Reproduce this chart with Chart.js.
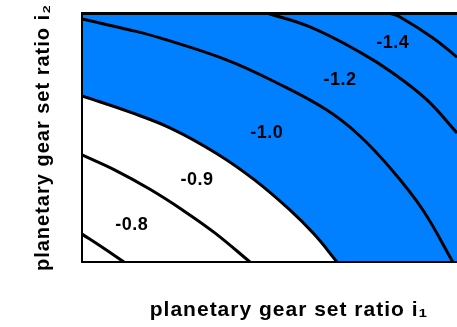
<!DOCTYPE html>
<html>
<head>
<meta charset="utf-8">
<script src="https://cdn.jsdelivr.net/npm/chart.js@4.4.1/dist/chart.umd.min.js"></script>
<style>
  body { margin: 0; background: #fff; }
  /* the original figure is cut off on the right, so the plot runs past the window */
  #wrap { width: 457px; height: 327px; overflow: hidden; }
</style>
</head>
<body>
<div id="wrap"><canvas id="contourChart" width="496" height="327"></canvas></div>
<script>
// contour lines of the overall ratio (i1, i2 in arbitrary units)
const i1_m08 = [0, 5.3, 11.2];
const i2_m08 = [11.2, 6.0, 0];

const i1_m09 = [0, 8.8, 17.9, 26.7, 35.5, 44.8];
const i2_m09 = [43.0, 36.9, 29.4, 21.0, 11.6, 0];

const i1_m10 = [0, 12.8, 24.0, 36.0, 46.0, 55.0, 62.0, 68.0];
const i2_m10 = [66.7, 60.2, 53.5, 43.5, 33.0, 21.5, 11.0, 0];

const i1_m12 = [0, 12.8, 20.8, 38.7, 52.0, 65.3, 74.1, 82.9, 90.9, 98.9];
const i2_m12 = [97.6, 93.2, 90.0, 81.1, 71.9, 61.0, 50.6, 36.5, 20.9, 0];

const i1_m14 = [49.3, 60.8, 74.1, 82.9, 92.0, 100];
const i2_m14 = [100, 94.4, 84.3, 75.9, 65.1, 51.8];

const i1_m16 = [82.1, 84.8, 93.6, 100];
const i2_m16 = [100, 98.4, 90.0, 82.3];

// contour labels
const labelText = ['-0.8', '-0.9', '-1.0', '-1.2', '-1.4'];
const labelI1 = [13.3, 30.7, 49.3, 68.8, 82.9];
const labelI2 = [14.9, 32.9, 51.8, 73.1, 88.0];

const toPoints = (xs, ys) => xs.map((v, i) => ({ x: v, y: ys[i] }));

const BLUE = 'rgb(0, 128, 255)';
const FONT = '"Liberation Sans", Arial, sans-serif';

const contourLine = (label, xs, ys, extra) => Object.assign({
    label: label,
    data: toPoints(xs, ys),
    borderColor: '#000',
    borderWidth: 3,
    pointRadius: 0,
    fill: false,
    tension: 0.4,
}, extra || {});

// blue background of the plot area, slightly wider letter spacing for all text
const plotBackground = {
    id: 'plotBackground',
    beforeDraw(chart) {
        const { ctx, chartArea } = chart;
        ctx.letterSpacing = '1px';
        ctx.save();
        ctx.fillStyle = BLUE;
        ctx.fillRect(chartArea.left, chartArea.top, chartArea.width, chartArea.height);
        ctx.restore();
    }
};

const contourLabels = {
    id: 'contourLabels',
    afterDatasetsDraw(chart) {
        const { ctx, scales } = chart;
        ctx.save();
        ctx.letterSpacing = '0.5px';
        ctx.font = 'bold 18px ' + FONT;
        ctx.fillStyle = '#000';
        ctx.textAlign = 'center';
        ctx.textBaseline = 'middle';
        labelText.forEach((t, i) => {
            ctx.fillText(t, scales.x.getPixelForValue(labelI1[i]), scales.y.getPixelForValue(labelI2[i]));
        });
        ctx.restore();
    }
};

const ctx = document.getElementById('contourChart');

new Chart(ctx, {
    type: 'line',
    data: {
        datasets: [
            contourLine('-0.8', i1_m08, i2_m08),
            contourLine('-0.9', i1_m09, i2_m09),
            contourLine('-1.0', i1_m10, i2_m10, { fill: 'start', backgroundColor: '#fff' }),
            contourLine('-1.2', i1_m12, i2_m12),
            contourLine('-1.4', i1_m14, i2_m14),
            contourLine('-1.6', i1_m16, i2_m16),
        ]
    },
    options: {
        responsive: false,
        animation: false,
        events: [],
        layout: { padding: { top: 13, right: 0, left: 0, bottom: 0 } },
        scales: {
            x: {
                type: 'linear',
                min: 0,
                max: 110.4,
                ticks: { display: false },
                grid: { display: false, drawTicks: false },
                border: { display: true, color: '#000', width: 2, z: 1 },
                title: {
                    display: true,
                    text: 'planetary gear set ratio i\u2081',
                    color: '#000',
                    font: { family: FONT, size: 21, weight: 'bold' },
                    padding: { top: 35.4, bottom: 4.4 }
                }
            },
            xTop: {
                type: 'linear',
                position: 'top',
                min: 0,
                max: 110.4,
                ticks: { display: false },
                grid: { display: false, drawTicks: false },
                border: { display: true, color: '#000', width: 3, z: 1 }
            },
            y: {
                type: 'linear',
                min: 0,
                max: 100,
                ticks: { display: false },
                grid: { display: false, drawTicks: false },
                border: { display: true, color: '#000', width: 2, z: 1 },
                title: {
                    display: true,
                    text: 'planetary gear set ratio i\u2082',
                    color: '#000',
                    font: { family: FONT, size: 20, weight: 'bold' },
                    padding: { top: 31, bottom: 27 }
                }
            }
        },
        plugins: {
            legend: { display: false },
            tooltip: { enabled: false }
        }
    },
    plugins: [plotBackground, contourLabels]
});
</script>
</body>
</html>
